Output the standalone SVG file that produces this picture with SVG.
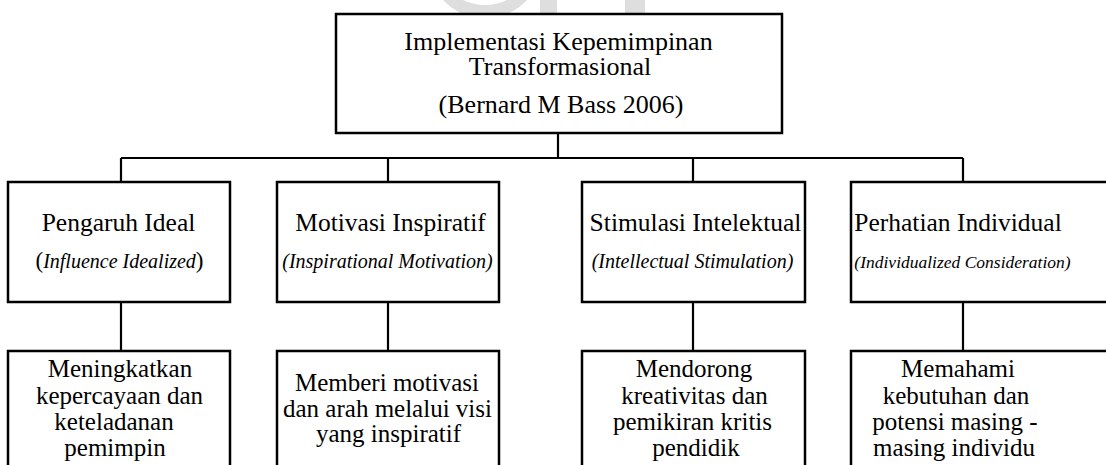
<svg xmlns="http://www.w3.org/2000/svg" width="1106" height="465" viewBox="0 0 1106 465">
<style>
.box{fill:#fff;stroke:#000;stroke-width:2.5}
.con{fill:none;stroke:#000;stroke-width:2.2}
.tx text{fill:#000;text-anchor:middle;font-family:"Liberation Serif","Times New Roman",serif}
.t{font-size:26px}
.r{font-size:25.5px}
.i{font-size:20px;font-style:italic}
.i2{font-size:17.5px;font-style:italic}
.b{font-size:25px}
.wm{fill:#dedede}
</style>
<rect width="1106" height="465" fill="#fff"/>
<g id="watermark">
<path class="wm" d="M443 0 A57 57 0 0 0 527 0 L507 0 A50 50 0 0 1 463 0 Z"/>
<rect class="wm" x="540" y="0" width="17" height="13"/>
<rect class="wm" x="625" y="0" width="20" height="13"/>
</g>
<g id="connectors">
<path class="con" d="M558 133 V158 M121 158 H963 M121 158 V182 M388 158 V182 M693 158 V182 M963 158 V182 M121 302 V351 M388 302 V351 M693 302 V351 M963 302 V351"/>
</g>
<g class="tx">
<g id="root">
<rect class="box" x="336" y="14" width="446" height="119"/>
<text class="t" x="558.5" y="50">Implementasi Kepemimpinan</text>
<text class="t" x="560" y="75">Transformasional</text>
<text class="t" x="561" y="113">(Bernard M Bass 2006)</text>
</g>
<g id="n1">
<rect class="box" x="8" y="182" width="222" height="120"/>
<text class="r" x="118.5" y="231">Pengaruh Ideal</text>
<text class="i" x="119.5" y="268"><tspan font-style="normal" font-size="23">(</tspan>Influence Idealized<tspan font-style="normal" font-size="23">)</tspan></text>
</g>
<g id="n2">
<rect class="box" x="277" y="182" width="222" height="120"/>
<text class="r" x="390.5" y="231">Motivasi Inspiratif</text>
<text class="i" x="387.5" y="268">(Inspirational Motivation)</text>
</g>
<g id="n3">
<rect class="box" x="582" y="182" width="223" height="120"/>
<text class="r" x="695.5" y="231">Stimulasi Intelektual</text>
<text class="i" x="692.5" y="268">(Intellectual Stimulation)</text>
</g>
<g id="n4">
<rect class="box" x="851" y="182" width="270" height="120"/>
<text class="r" x="958" y="231">Perhatian Individual</text>
<text class="i2" x="962.5" y="268">(Individualized Consideration)</text>
</g>
<g id="d1">
<rect class="box" x="8" y="351" width="222" height="130"/>
<text class="b" x="120" y="377">Meningkatkan</text>
<text class="b" x="119.5" y="404">kepercayaan dan</text>
<text class="b" x="114" y="430">keteladanan</text>
<text class="b" x="115" y="456">pemimpin</text>
</g>
<g id="d2">
<rect class="box" x="277" y="351" width="222" height="130"/>
<text class="b" x="387" y="391">Memberi motivasi</text>
<text class="b" x="387.5" y="417">dan arah melalui visi</text>
<text class="b" x="388.5" y="442">yang inspiratif</text>
</g>
<g id="d3">
<rect class="box" x="582" y="351" width="223" height="130"/>
<text class="b" x="694" y="377">Mendorong</text>
<text class="b" x="694.5" y="404">kreativitas dan</text>
<text class="b" x="692.5" y="430">pemikiran kritis</text>
<text class="b" x="696" y="456">pendidik</text>
</g>
<g id="d4">
<rect class="box" x="851" y="351" width="270" height="130"/>
<text class="b" x="958" y="377">Memahami</text>
<text class="b" x="956" y="404">kebutuhan dan</text>
<text class="b" x="955" y="430">potensi masing -</text>
<text class="b" x="954" y="456">masing individu</text>
</g>
</g>
</svg>
